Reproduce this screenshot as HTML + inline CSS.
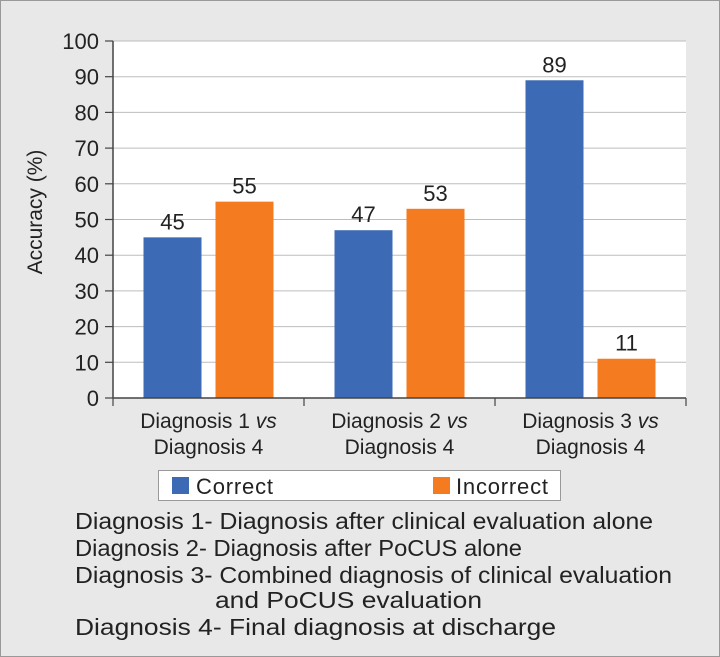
<!DOCTYPE html>
<html><head><meta charset="utf-8"><style>
html,body{margin:0;padding:0;background:#e8e8e8}
svg{display:block;font-family:"Liberation Sans",Arial,sans-serif}
</style></head><body>
<svg id="chart" width="720" height="657" viewBox="0 0 720 657">
<rect x="0.5" y="0.5" width="719" height="656" fill="#e8e8e8" stroke="#999"/>
<rect x="113" y="41" width="573" height="357" fill="#fff"/>
<g id="grid"></g>
<g id="bars"></g>
<g id="axes"></g>
<text transform="translate(42,212) rotate(-90)" text-anchor="middle" font-size="21" fill="#222">Accuracy (%)</text>
<g>
<rect x="158.5" y="470.5" width="402" height="30" fill="#fff" stroke="#999"/>
<rect x="172" y="477" width="17" height="17" fill="#3d6ab5"/>
<text x="196" y="494" font-size="22" fill="#222" textLength="77">Correct</text>
<rect x="433" y="477" width="17" height="17" fill="#f47b20"/>
<text x="456" y="494" font-size="22" fill="#222" textLength="92">Incorrect</text>
</g>
<g font-size="23.5" fill="#222">
<text x="75" y="529" textLength="578" lengthAdjust="spacingAndGlyphs">Diagnosis 1- Diagnosis after clinical evaluation alone</text>
<text x="75" y="556" textLength="447" lengthAdjust="spacingAndGlyphs">Diagnosis 2- Diagnosis after PoCUS alone</text>
<text x="75" y="583" textLength="597" lengthAdjust="spacingAndGlyphs">Diagnosis 3- Combined diagnosis of clinical evaluation</text>
<text x="215" y="608" textLength="267" lengthAdjust="spacingAndGlyphs">and PoCUS evaluation</text>
<text x="75" y="635" textLength="481" lengthAdjust="spacingAndGlyphs">Diagnosis 4- Final diagnosis at discharge</text>
</g>
</svg>
<script>
const categories = [["Diagnosis 1 ", "Diagnosis 4"], ["Diagnosis 2 ", "Diagnosis 4"], ["Diagnosis 3 ", "Diagnosis 4"]];
const correctValues = [45, 47, 89];
const incorrectValues = [55, 53, 11];
const yTicks = [0,10,20,30,40,50,60,70,80,90,100];
const NS="http://www.w3.org/2000/svg";
const x0=113,x1=686,y0=398,y1=41;
const y=v=>y0-(v/100)*(y0-y1);
const bandW=(x1-x0)/categories.length;
function mk(tag,attrs,parent,text){const e=document.createElementNS(NS,tag);for(const k in attrs)e.setAttribute(k,attrs[k]);if(text!==undefined)e.textContent=text;parent.appendChild(e);return e;}
const axes=document.getElementById('axes'),bars=document.getElementById('bars'),grid=document.getElementById('grid');
let a=mk('line',{x1:x0,y1:y1,x2:x0,y2:y0,stroke:'#444','stroke-width':1.5},axes);


a=mk('line',{x1:x0,y1:y0,x2:x1,y2:y0,stroke:'#444','stroke-width':1.5},axes);


yTicks.forEach(t=>{
  if(t>0){
    const g=mk('line',{x1:x0,y1:y(t),x2:x1,y2:y(t),stroke:'#bdbdbd','stroke-width':1},grid);
    
    
  }
  const l=mk('line',{x1:x0-8,y1:y(t),x2:x0,y2:y(t),stroke:'#444','stroke-width':1.2},axes);
  
  
  const tx=mk('text',{x:x0-14,y:y(t)+8,'text-anchor':'end','font-size':22,fill:'#222'},axes,String(t));
  
  
});
for(let i=0;i<=categories.length;i++){
  const l=mk('line',{x1:x0+i*bandW,y1:y0,x2:x0+i*bandW,y2:y0+8,stroke:'#444','stroke-width':1.2},axes);
  
  
}
const bw=58,gap=14;
categories.forEach((c,i)=>{
  const cx=x0+bandW*(i+0.5);
  const series=[[correctValues[i],'#3d6ab5','correct',cx-gap/2-bw],[incorrectValues[i],'#f47b20','incorrect',cx+gap/2]];
  series.forEach(([v,col,n,bx])=>{
    const r=mk('rect',{x:bx,y:y(v),width:bw,height:y0-y(v),fill:col},bars);
    
    
    const t=mk('text',{x:bx+bw/2,y:y(v)-8,'text-anchor':'middle','font-size':22,fill:'#222'},bars,String(v));
    
    
  });
  const t1=mk('text',{x:cx,y:428,'text-anchor':'middle','font-size':21,fill:'#222'},axes,c[0]);
  mk('tspan',{'font-style':'italic'},t1,'vs');
  
  
  const t2=mk('text',{x:cx,y:454,'text-anchor':'middle','font-size':21,fill:'#222'},axes,c[1]);
  
  
});
</script>
</body></html>
